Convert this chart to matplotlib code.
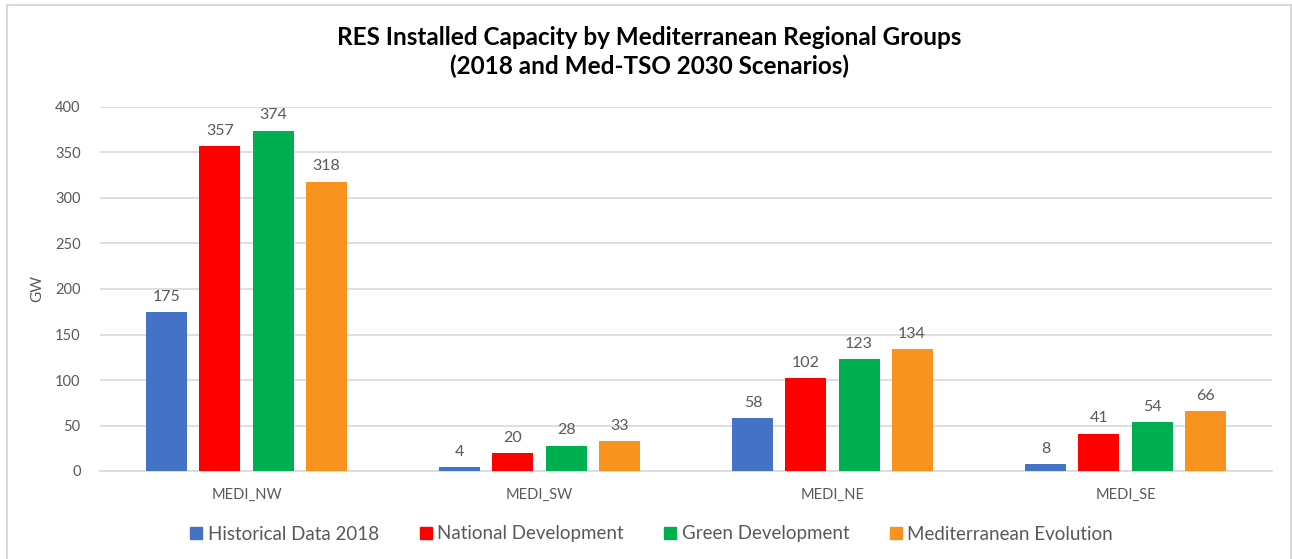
import matplotlib
matplotlib.use("Agg")
import matplotlib.pyplot as plt
from matplotlib.patches import Rectangle
from matplotlib.lines import Line2D
import numpy as np

# Data
regions = ["MEDI_NW", "MEDI_SW", "MEDI_NE", "MEDI_SE"]
historical_2018 = [175, 4, 58, 8]
national_dev = [357, 20, 102, 41]
green_dev = [374, 28, 123, 54]
med_evolution = [318, 33, 134, 66]

series_names = ["Historical Data 2018", "National Development",
                "Green Development", "Mediterranean Evolution"]
series_values = [historical_2018, national_dev, green_dev, med_evolution]
colors = ["#4472C4", "#FF0000", "#00B050", "#F7931E"]

plt.rcParams['font.family'] = ['Lato', 'DejaVu Sans']
gray = "#595959"

W, H = 1292, 559
fig = plt.figure(figsize=(W / 100, H / 100), dpi=100)

# light frame around the chart area
fig.patches.append(Rectangle((6.5 / W, -0.05), (1291 - 6.5) / W, 1 - 4.5 / H + 0.05,
                             transform=fig.transFigure, fill=False,
                             edgecolor="#d9d9d9", linewidth=1.5))

ax = fig.add_axes([100 / W, 88 / H, (1272 - 100) / W, (471 - 107) / H])

x = np.arange(len(regions))
width = 0.14
step = 0.181
for i, (name, vals, c) in enumerate(zip(series_names, series_values, colors)):
    offs = (i - 1.5) * step
    bars = ax.bar(x + offs, vals, width, color=c, label=name, zorder=3)
    for b, v in zip(bars, vals):
        ax.text(b.get_x() + b.get_width() / 2, v + 9, str(v), ha="center",
                va="bottom", fontsize=11.5, color=gray)

ax.set_xlim(-0.5, len(regions) - 0.5)
ax.set_ylim(0, 400)
ax.set_yticks(range(0, 401, 50))
ax.set_xticks(x)
ax.set_xticklabels(regions)
ax.tick_params(axis="both", length=0, labelsize=10.5, colors=gray)
ax.tick_params(axis="y", pad=14)
ax.tick_params(axis="x", pad=12)
ax.yaxis.grid(True, color="#d9d9d9", linewidth=1.2, zorder=0)
for s in ["top", "right", "left"]:
    ax.spines[s].set_visible(False)
ax.spines["bottom"].set_color("#d9d9d9")
ax.spines["bottom"].set_linewidth(1.2)
ax.set_ylabel("GW", fontsize=11, color=gray, labelpad=8)

fig.text(649 / W, 1 - 52 / H,
         "RES Installed Capacity by Mediterranean Regional Groups\n(2018 and Med-TSO 2030 Scenarios)",
         ha="center", va="center", fontsize=17.5, fontweight="bold", color="black",
         linespacing=1.3)

handles = [Line2D([0], [0], marker="s", linestyle="none", markersize=8,
                  markerfacecolor=c, markeredgecolor=c) for c in colors]
fig.legend(handles, series_names, loc="center", bbox_to_anchor=(652 / W, 1 - 534 / H),
           ncol=4, frameon=False, fontsize=13.5, handlelength=0.6, handletextpad=0.3,
           columnspacing=2.2, labelcolor=gray)

fig.savefig("out.png", dpi=100)
